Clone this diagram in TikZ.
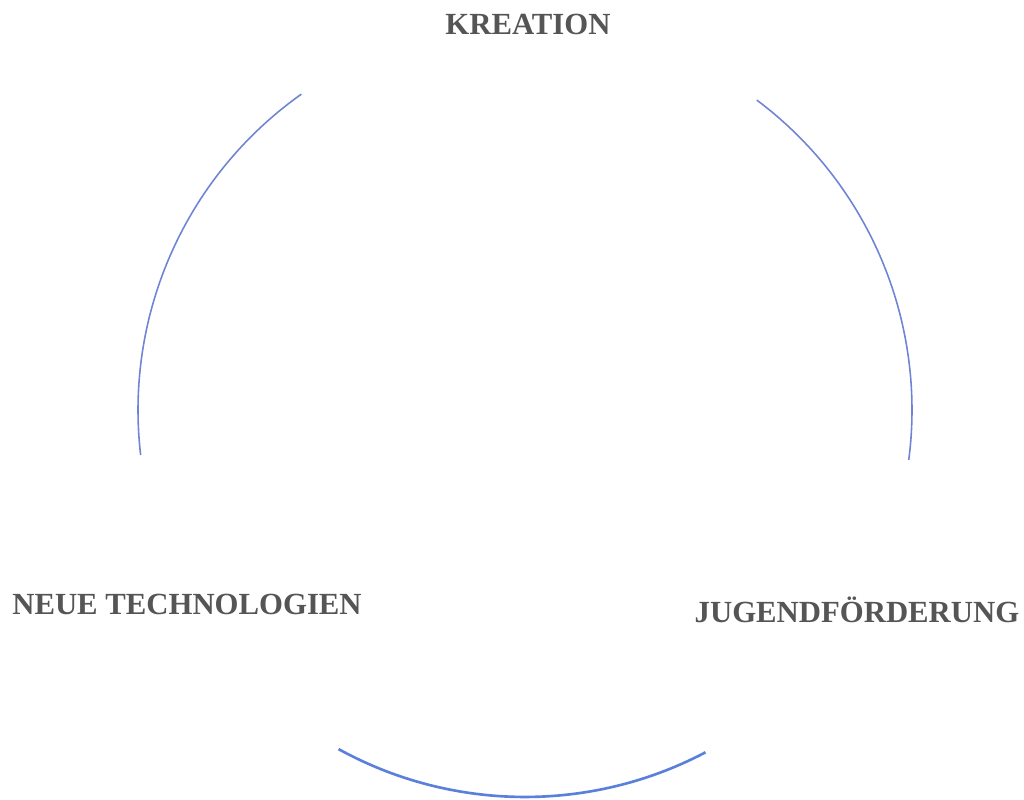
\documentclass[tikz,border=0pt]{standalone}
\usepackage{fontspec}
\setmainfont{Liberation Serif}
\usepackage{tikz}

\definecolor{bogen}{HTML}{6F84D4}
\definecolor{bogenunten}{HTML}{5A80DC}
\definecolor{schrift}{HTML}{555555}

\begin{document}
\begin{tikzpicture}[x=0.02cm,y=0.02cm,
    label/.style={text=schrift,font=\fontsize{17.5}{20}\selectfont\bfseries,inner sep=0pt}]
            \useasboundingbox (0,0) rectangle (1024,800);
            \coordinate (mitte) at (525,390);

            % Draw three arcs of one circle
            \draw[bogen, line width=0.9pt] ([shift={(125.3:387)}]mitte) arc (125.3:186.7:387);
            \draw[bogen, line width=0.9pt] ([shift={(53.2:387)}]mitte) arc (53.2:-7.4:387);
            \draw[bogenunten, line width=1.5pt] ([shift={(241.2:387)}]mitte) arc (241.2:297.8:387);

            % Add labels
            \node[label] (kreation) at (528,776) {KREATION};
            \node[label] (neue) at (187,196) {NEUE TECHNOLOGIEN};
            \node[label] (jugend) at (857,190) {JUGENDFÖRDERUNG};
        \end{tikzpicture}
\end{document}
